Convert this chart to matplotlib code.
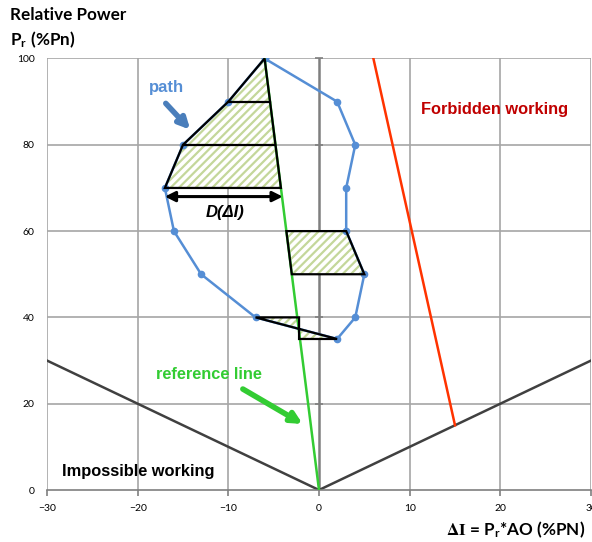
import numpy as np
import matplotlib
matplotlib.use("Agg")
import matplotlib.pyplot as plt
from matplotlib.patches import Polygon

# chemin de fonctionnement (boucle fermee)
path_x = [-6, 2, 4, 3, 3, 5, 4, 2, -7, -13, -16, -17, -15, -10, -6]
path_y = [100, 90, 80, 70, 60, 50, 40, 35, 40, 50, 60, 70, 80, 90, 100]

# droite de reference, limite interdite, limite impossible
ref_x = [0, -6]
ref_y = [0, 100]
forbid_x = [15, 6]
forbid_y = [15, 100]
limit_x = [-30, 0, 30]
limit_y = [30, 0, 30]

# zones hachurees
zone1_x = [-6, -10, -15, -17, -4.2]
zone1_y = [100, 90, 80, 70, 70]
zone1_steps = [(-10, -5.4, 90), (-15, -4.8, 80)]
zone2_x = [-3.6, 3, 5, -3]
zone2_y = [60, 60, 50, 50]
zone3_x = [-7, -2.2, -2.2, 2]
zone3_y = [40, 40, 35, 35]

xticks = [-30, -20, -10, 0, 10, 20, 30]
yticks = [0, 20, 40, 60, 80, 100]

plt.rcParams['hatch.linewidth'] = 1.6
plt.rcParams['font.family'] = ['Lato', 'DejaVu Sans']
plt.rcParams['mathtext.fontset'] = 'stix'
ann_font = ['Liberation Sans', 'DejaVu Sans']

fig = plt.figure(figsize=(5.92, 5.42), dpi=100)
ax = fig.add_axes([47 / 592, 1 - 490 / 542, 544 / 592, 431.5 / 542])
ax.set_xlim(-30, 30)
ax.set_ylim(0, 100)

# grille
for x in xticks:
    if x != 0:
        ax.axvline(x, color='#a6a6a6', lw=1.2, zorder=0)
for y in yticks[1:]:
    ax.axhline(y, color='#a6a6a6', lw=1.2, zorder=0)
ax.axvline(0, color='#7f7f7f', lw=1.8, zorder=0.5)
ax.plot([0] * (len(yticks) - 1), yticks[1:], ls='none', marker='_', ms=6,
        mew=1.2, color='#7f7f7f', zorder=0.5, clip_on=False)

for s in ['left', 'right', 'top']:
    ax.spines[s].set_visible(False)
ax.spines['bottom'].set_color('#7f7f7f')
ax.spines['bottom'].set_linewidth(1.2)

ax.set_xticks(xticks)
ax.set_yticks(yticks)
ax.tick_params(axis='x', length=4, width=1.2, color='#7f7f7f', labelsize=7.5, pad=6)
ax.tick_params(axis='y', length=0, labelsize=7.5, pad=9)

# zones hachurees
for zx, zy in [(zone1_x, zone1_y), (zone2_x, zone2_y), (zone3_x, zone3_y)]:
    pts = np.column_stack([zx, zy])
    ax.add_patch(Polygon(pts, closed=True, facecolor='white', edgecolor='#c4d79b',
                         hatch='////', lw=0, zorder=1))
for zx, zy in [(zone1_x, zone1_y), (zone2_x, zone2_y), (zone3_x, zone3_y)]:
    pts = np.column_stack([zx, zy])
    ax.add_patch(Polygon(pts, closed=True, facecolor='none', edgecolor='black',
                         lw=1.6, zorder=4))
for x0, x1, y in zone1_steps:
    ax.plot([x0, x1], [y, y], color='black', lw=1.6, zorder=4)

ax.plot(limit_x, limit_y, color='#404040', lw=1.8, zorder=2)
ax.plot(forbid_x, forbid_y, color='#ff3300', lw=1.8, zorder=2)
ax.plot(path_x, path_y, color='#558ed5', lw=1.8, marker='o', ms=4.5, zorder=3)
ax.plot(ref_x, ref_y, color='#33cc33', lw=1.8, zorder=3.5)

# fleche D(dI)
ax.annotate('', xy=(-4, 68), xytext=(-17, 68),
            arrowprops=dict(arrowstyle='<|-|>', color='black', lw=2.2,
                            mutation_scale=15, shrinkA=0, shrinkB=0), zorder=5)
ax.text(-10.4, 64.3, 'D(ΔI)', fontsize=12, fontweight='bold', fontstyle='italic',
        ha='center', va='center', family=ann_font)

ax.text(-16.8, 93.3, 'path', fontsize=12, fontweight='bold', color='#558ed5',
        ha='center', va='center', family=ann_font)
ax.annotate('', xy=(-14.2, 83.5), xytext=(-16.9, 89.6),
            arrowprops=dict(arrowstyle='-|>', color='#4a7ebb', lw=4,
                            mutation_scale=16, shrinkA=0, shrinkB=0))

ax.text(-12.1, 26.7, 'reference line', fontsize=11.8, fontweight='bold',
        color='#33cc33', ha='center', va='center', family=ann_font)
ax.annotate('', xy=(-1.8, 15.3), xytext=(-8.4, 23.4),
            arrowprops=dict(arrowstyle='-|>', color='#33cc33', lw=4,
                            mutation_scale=16, shrinkA=0, shrinkB=0))

ax.text(11.2, 88.2, 'Forbidden working', fontsize=11.8, fontweight='bold',
        color='#c00000', ha='left', va='center', family=ann_font)
ax.text(-28.4, 4.4, 'Impossible working', fontsize=11.8, fontweight='bold',
        color='black', ha='left', va='center', family=ann_font)

# titres d'axes
fig.text(10 / 592, 1 - 15 / 542, 'Relative Power', fontsize=12.3, fontweight='bold',
         ha='left', va='center')
fig.text(10 / 592, 1 - 40 / 542, r'P$_\mathregular{r}$ (%Pn)', fontsize=12.3,
         fontweight='bold', ha='left', va='center')
fig.text(585 / 592, 1 - 530 / 542, r'$\mathbf{\Delta I}$ = P$_\mathregular{r}$*AO (%PN)',
         fontsize=12.3, fontweight='bold', ha='right', va='center')

fig.savefig('out.png', dpi=100)
